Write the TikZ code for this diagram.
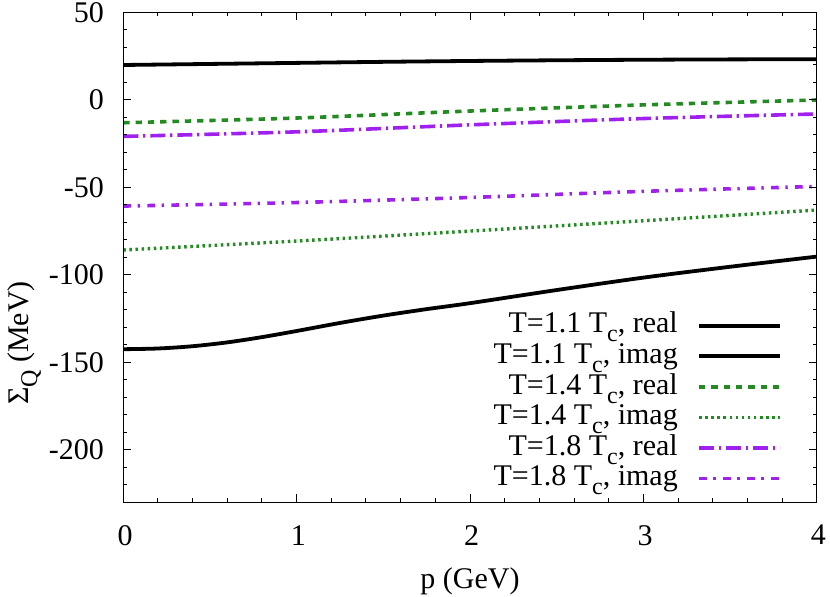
\documentclass[tikz,border=0pt]{standalone}
\usepackage{fontspec}
\setmainfont{Liberation Serif}
\newfontfamily\plotfont{Liberation Serif}
\definecolor{fgreen}{HTML}{228B22}
\definecolor{gpurple}{HTML}{A020F0}
\newcommand{\subsc}[1]{\raisebox{-9pt}[0pt][0pt]{\fontsize{24}{24}\selectfont #1}}
\begin{document}
\begin{tikzpicture}[x=1pt,y=1pt,
  lbl/.style={font=\plotfont\fontsize{30}{36}\selectfont, inner sep=0pt},
  axisline/.style={line width=1pt, black},
  blk/.style={line width=3.8pt, black},
  grdash/.style={line width=3.6pt, fgreen, dash pattern=on 6.3pt off 6pt},
  grdot/.style={line width=3.4pt, fgreen, dash pattern=on 2.5pt off 3.6pt},
  pudashdot/.style={line width=3.6pt, gpurple, dash pattern=on 15pt off 4.7pt on 2.3pt off 5pt},
  pudashdotb/.style={line width=3.6pt, gpurple, dash pattern=on 7.7pt off 6.7pt on 2.3pt off 7.3pt}]
\useasboundingbox (0,0) rectangle (830,597);
\begin{scope}[x=173.35pt, y=1.75pt, shift={(123.3pt,497pt)}]
  % curves
  \draw[blk] plot[smooth] coordinates {(0,20) (0.5,20.6) (1,21.2) (1.5,21.8) (2,22.3) (2.5,22.7) (3,23.0) (3.5,23.2) (4,23.3)};
  \draw[blk] plot[smooth] coordinates {(0,-142.4) (0.2,-142) (0.4,-140.7) (0.6,-138.5) (0.8,-135.5) (1,-132) (1.25,-127.4) (1.5,-123.2) (1.75,-119.5) (2,-116.1) (2.5,-108.6) (3,-101.5) (3.5,-95.3) (4,-89.5)};
  \draw[grdash] plot[smooth] coordinates {(0,-13) (1,-10.3) (2,-6.3) (3,-2.8) (4,0)};
  \draw[grdot] plot[smooth] coordinates {(0,-85.7) (1,-80.6) (2,-74.9) (3,-69) (4,-62.9)};
  \draw[pudashdot] plot[smooth] coordinates {(0,-20.8) (1,-18.2) (2,-14.2) (3,-10.6) (4,-8)};
  \draw[pudashdotb] plot[smooth] coordinates {(0,-60.6) (1,-58.6) (2,-55.7) (3,-52.2) (4,-49.4)};
  % frame
  \draw[axisline] (0,-230) rectangle (4,50);
  % y ticks
  \foreach \v in {-220,-210,...,40} {
    \draw[axisline] (0,\v) -- ++(4pt,0);
    \draw[axisline] (4,\v) -- ++(-4pt,0);
  }
  \foreach \v in {-200,-150,...,0,50} {
    \draw[axisline] (0,\v) -- ++(8pt,0);
    \draw[axisline] (4,\v) -- ++(-8pt,0);
  }
  % x ticks
  \foreach \p in {0.2,0.4,...,3.9} {
    \draw[axisline] (\p,-230) -- ++(0,4pt);
    \draw[axisline] (\p,50) -- ++(0,-4pt);
  }
  \foreach \p in {1,2,3} {
    \draw[axisline] (\p,-230) -- ++(0,8pt);
    \draw[axisline] (\p,50) -- ++(0,-8pt);
  }
\end{scope}
% y tick labels
\foreach \v in {50,0,-50,-100,-150,-200} {
  \node[lbl, anchor=east] (yl\v) at (104,{497+1.75*\v}) {\v};
}
% x tick labels
\foreach \p in {0,1,2,3,4} {
  \node[lbl, anchor=north] (xl\p) at ({125+173.35*\p},72) {\p};
}
% axis labels
\node[lbl, anchor=base] (xlab) at (470,8) {p (GeV)};
\node[lbl, anchor=base, rotate=90] (ylab) at (28,254) {Σ\subsc{Q} (MeV)};
% legend
\foreach \i/\s in {0/blk, 1/blk, 2/grdash, 3/grdot, 4/pudashdot, 5/pudashdotb} {
  \pgfmathsetmacro{\ly}{271.3-30.6*\i}
  \coordinate (la\i) at (699,\ly);
  \coordinate (lb\i) at (780,\ly);
  \draw[\s] (la\i) -- (lb\i);
}
\node[lbl, anchor=base east] (lt0) at (678,264.0) {T=1.1 T\subsc{c}, real};
\node[lbl, anchor=base east] (lt1) at (678,233.4) {T=1.1 T\subsc{c}, imag};
\node[lbl, anchor=base east] (lt2) at (678,202.8) {T=1.4 T\subsc{c}, real};
\node[lbl, anchor=base east] (lt3) at (678,172.2) {T=1.4 T\subsc{c}, imag};
\node[lbl, anchor=base east] (lt4) at (678,141.6) {T=1.8 T\subsc{c}, real};
\node[lbl, anchor=base east] (lt5) at (678,111.0) {T=1.8 T\subsc{c}, imag};
\end{tikzpicture}
\end{document}
